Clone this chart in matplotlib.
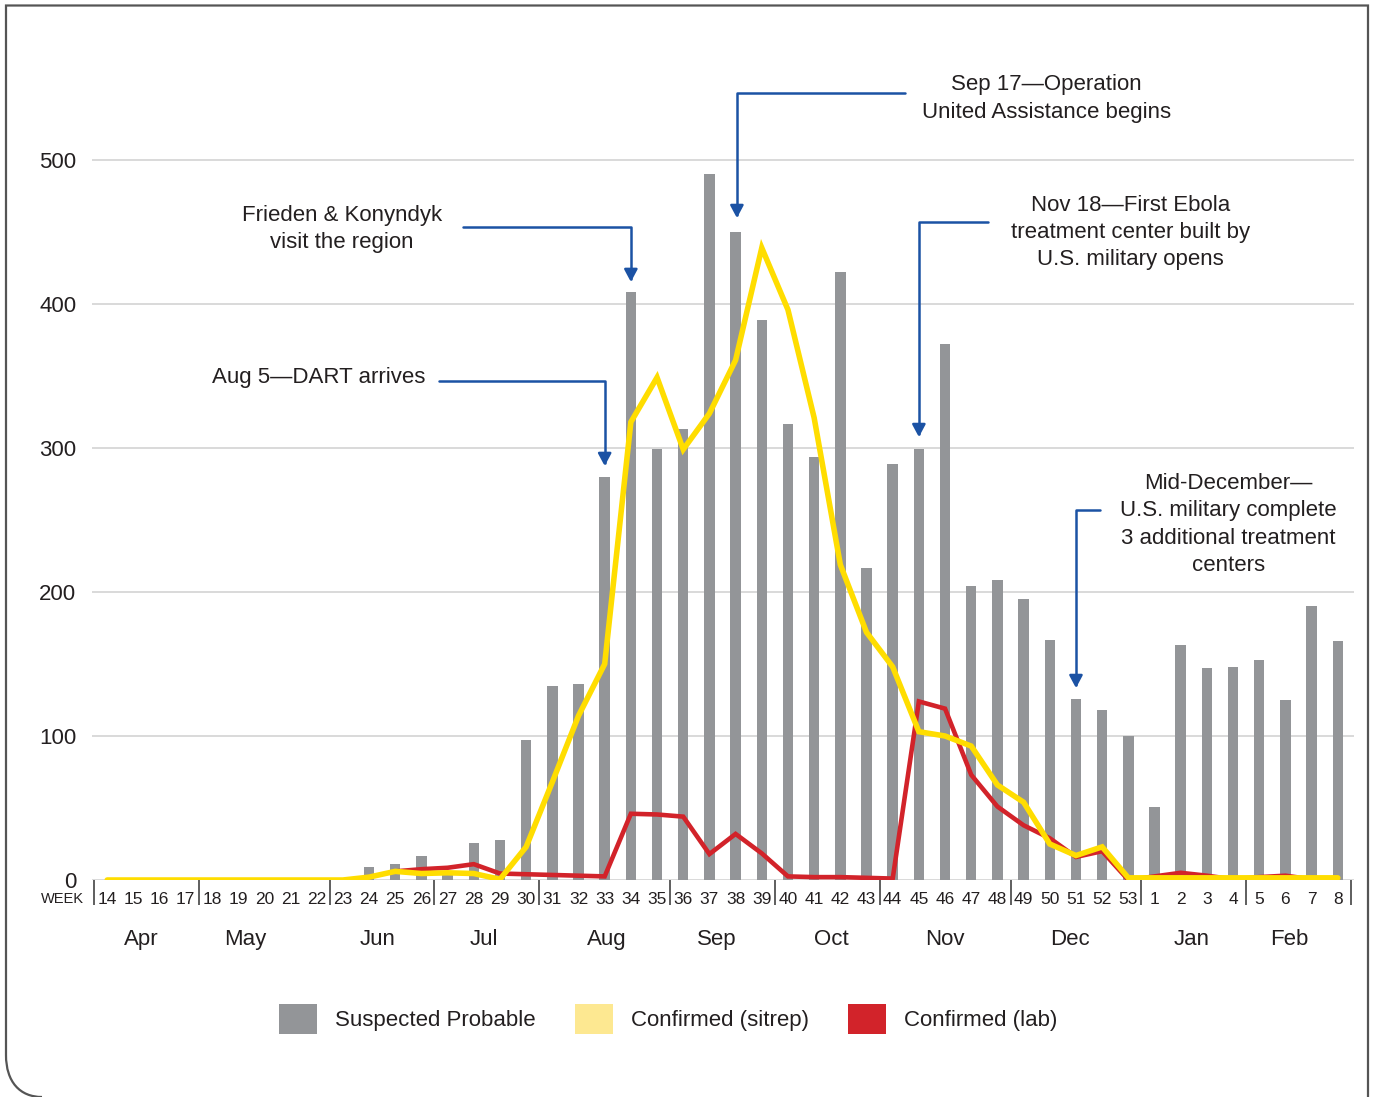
import matplotlib
matplotlib.use("Agg")
import matplotlib.pyplot as plt
from matplotlib.path import Path
from matplotlib.patches import PathPatch, Patch
import numpy as np

plt.rcParams['font.family'] = ['Liberation Sans', 'DejaVu Sans']

# ---------------- data ----------------
weeks = [str(w) for w in range(14, 54)] + [str(w) for w in range(1, 9)]

suspected_probable = [0, 0, 0, 0, 0, 0, 0, 0, 0, 0,          # 14-23
                      9, 11, 17, 5, 26, 28, 97,              # 24-30
                      135, 136, 280, 408, 299,               # 31-35
                      313, 490, 450, 389,                    # 36-39
                      317, 294, 422, 217,                    # 40-43
                      289, 299, 372, 204, 208,               # 44-48
                      195, 167, 126, 118, 100,               # 49-53
                      51, 163, 147, 148,                     # 1-4
                      153, 125, 190, 166]                    # 5-8

confirmed_sitrep = [0, 0, 0, 0, 0, 0, 0, 0, 0, 0,
                    2, 6, 4.5, 5, 4.5, 0.5, 23,
                    68, 114, 150, 318, 349,
                    299, 324, 361, 439,
                    396, 321, 219, 172,
                    148, 103, 100, 93, 66,
                    54, 25, 17, 23, 1.5,
                    1.5, 1.5, 1.5, 1.5,
                    1.5, 1.5, 1.5, 1.5]

confirmed_lab = [np.nan] * 11 + [
                 6, 7.5, 8.5, 11, 4.5, 4,          # 25-30
                 3.5, 3, 2.5, 46, 45.5,            # 31-35
                 44, 18, 32, 18.5,                 # 36-39
                 2.5, 2, 2, 1.5,                   # 40-43
                 1, 124, 119, 73, 51,              # 44-48
                 38, 29, 16, 20, 0,                # 49-53
                 2.5, 5, 3, 0.5,                   # 1-4
                 2, 3, 0.5, np.nan]                # 5-8

months = ['Apr', 'May', 'Jun', 'Jul', 'Aug', 'Sep', 'Oct', 'Nov', 'Dec', 'Jan', 'Feb']
month_label_pos = [1.3, 5.27, 10.34, 14.39, 19.08, 23.28, 27.67, 31.98, 36.76, 41.41, 45.15]
month_bounds = [-0.5, 3.5, 8.5, 12.5, 16.5, 21.5, 25.5, 29.5, 34.5, 39.5, 43.5, 47.5]

yticks = [0, 100, 200, 300, 400, 500]

annotations = [
    ("Frieden & Konyndyk\nvisit the region", 8.97, 452.4, 'center', 13.59, 453.5, 20, 415.3),
    ("Aug 5\u2014DART arrives", 12.14, 349.3, 'right', 12.67, 346.5, 19, 287.5),
    ("Sep 17\u2014Operation\nUnited Assistance begins", 35.88, 542.7, 'center', 30.46, 546.5, 24.05, 459.7),
    ("Nov 18\u2014First Ebola\ntreatment center built by\nU.S. military opens", 39.08, 449.7, 'center', 33.63, 457.0, 31, 307.6),
    ("Mid-December\u2014\nU.S. military complete\n3 additional treatment\ncenters", 42.82, 246.9, 'center', 37.9, 257.0, 37, 133.3),
]

# ---------------- styles ----------------
GRAY = '#939598'
YELLOW = '#FFDD00'
YELLOW_LEG = '#FDE891'
RED = '#D2232A'
BLUE = '#1B52A4'
TXT = '#231F20'

W, H = 1373, 1097
fig = plt.figure(figsize=(W / 100, H / 100), dpi=100)
fig.patch.set_facecolor('white')

ax_left, ax_right = 91.5 / W, 1353.5 / W
ax_bottom = 1 - 880 / H
ymax = 580
ax_top = 1 - (880 - ymax * 1.44) / H
ax = fig.add_axes([ax_left, ax_bottom, ax_right - ax_left, ax_top - ax_bottom])

x = np.arange(len(weeks))
ax.bar(x, suspected_probable, width=0.4, color=GRAY, zorder=2)
ax.plot(x, confirmed_lab, color=RED, lw=3.3, zorder=3, solid_capstyle='round', solid_joinstyle='miter')
ax.plot(x, confirmed_sitrep, color=YELLOW, lw=4.0, zorder=4, solid_capstyle='round', solid_joinstyle='miter')

ax.set_xlim(-0.6, 47.6)
ax.set_ylim(0, ymax)

for s in ax.spines.values():
    s.set_visible(False)

ax.set_yticks(yticks)
ax.set_yticklabels([str(v) for v in yticks])
ax.tick_params(axis='y', length=0, pad=11, labelsize=16, labelcolor=TXT)
ax.yaxis.grid(True, color='#D9D9D9', lw=1.4, zorder=0)
ax.set_axisbelow(True)

ax.set_xticks(x)
ax.set_xticklabels(weeks)
ax.tick_params(axis='x', which='major', length=0, pad=8.5, labelsize=12.5, labelcolor=TXT)
ax.set_xticks(month_bounds, minor=True)
ax.tick_params(axis='x', which='minor', length=18, width=1.1, color='#333333', direction='out')

trans = ax.get_xaxis_transform()
for m, p in zip(months, month_label_pos):
    ax.text(p, (880 - 945) / 835.2, m, transform=trans, ha='center', va='baseline',
            fontsize=16, color=TXT)
ax.text(-0.88, (880 - 899) / 835.2, 'WEEK', transform=trans, ha='right', va='center',
        fontsize=10.5, color=TXT)

for text, tx, ty, ha, x0, y0, x1, y1 in annotations:
    ax.text(tx, ty, text, ha=ha, va='center', multialignment='center', fontsize=16,
            color=TXT, linespacing=1.38, clip_on=False, zorder=6)
    ax.annotate('', xy=(x1, y1), xytext=(x0, y0), annotation_clip=False,
                arrowprops=dict(arrowstyle='-|>,head_length=0.75,head_width=0.4',
                                connectionstyle='angle,angleA=0,angleB=90,rad=0',
                                color=BLUE, lw=1.8, shrinkA=0, shrinkB=0),
                zorder=6)

handles = [Patch(facecolor=GRAY), Patch(facecolor=YELLOW_LEG), Patch(facecolor=RED)]
labels = ['Suspected Probable', 'Confirmed (sitrep)', 'Confirmed (lab)']
fig.legend(handles, labels, loc='center', bbox_to_anchor=(668 / W, 1 - 1019 / H), ncol=3,
           frameon=False, fontsize=16, handlelength=1.72, handleheight=1.75,
           handletextpad=0.8, columnspacing=1.75, labelcolor=TXT)

# frame border with rounded bottom-left corner
pts = [(1368, 1097), (1368, 5.5), (6, 5.5), (6, 1055), (6, 1082), (20, 1097), (42, 1097)]
codes = [Path.MOVETO, Path.LINETO, Path.LINETO, Path.LINETO, Path.CURVE4, Path.CURVE4, Path.CURVE4]
verts = [(px / W, 1 - py / H) for px, py in pts]
fig.add_artist(PathPatch(Path(verts, codes), transform=fig.transFigure, fill=False,
                         edgecolor='#555555', lw=1.6))

fig.savefig('out.png', dpi=100, facecolor='white')
